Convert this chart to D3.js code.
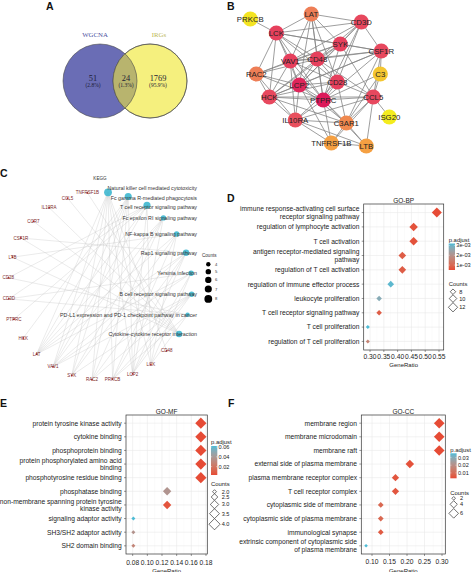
<!DOCTYPE html>
<html><head><meta charset="utf-8">
<script src="https://cdn.jsdelivr.net/npm/d3@7/dist/d3.min.js"></script>
<style>
html,body{margin:0;padding:0;background:#fff;}
svg{display:block;font-family:"Liberation Sans",Arial,Helvetica,sans-serif;}
</style></head>
<body>
<svg id="fig" width="474" height="572"></svg>
<script>
// ================= DATA =================
// Panel A – Venn
const vennSets = ["WGCNA", "IRGs"];
const vennCounts = [51, 24, 1769];
const vennPct = ["(2.8%)", "(1.3%)", "(95.9%)"];

// Panel B – PPI network (layout units from the picture)
const ppiGenes  = ["PRKCB","LAT","CD3D","LCK","SYK","CSF1R","VAV1","CD48","RAC2","C3","LCP2","CD28","HCK","PTPRC","CCL5","ISG20","IL10RA","C3AR1","TNFRSF1B","LTB"];
const ppiLayoutX = [0, 61, 111, 26, 90, 131, 40, 67, 6, 130, 49, 87, 19, 73, 123, 139, 45, 96, 81, 116];
const ppiLayoutY = [5, 0, 8, 19, 30, 37, 47, 45, 60, 60, 71, 68, 83, 86, 83, 103, 106, 109, 129, 132];
const ppiScore  = [2, 12, 16, 17, 17, 16, 17, 17, 12, 6, 19, 17, 16, 20, 16, 1, 15, 11, 9, 9];
const ppiEdges = [
 ["PRKCB","LCK"],
 ["LAT","LCK"],["LAT","CD3D"],["LAT","VAV1"],["LAT","LCP2"],["LAT","SYK"],["LAT","CD28"],["LAT","PTPRC"],["LAT","CD48"],
 ["CD3D","LCK"],["CD3D","SYK"],["CD3D","CD48"],["CD3D","CD28"],["CD3D","PTPRC"],["CD3D","LCP2"],["CD3D","CSF1R"],["CD3D","VAV1"],
 ["LCK","SYK"],["LCK","VAV1"],["LCK","CD48"],["LCK","LCP2"],["LCK","PTPRC"],["LCK","HCK"],["LCK","RAC2"],["LCK","CD28"],["LCK","CSF1R"],
 ["SYK","VAV1"],["SYK","CD48"],["SYK","LCP2"],["SYK","PTPRC"],["SYK","HCK"],["SYK","CSF1R"],["SYK","CCL5"],["SYK","RAC2"],
 ["CSF1R","CD48"],["CSF1R","PTPRC"],["CSF1R","HCK"],["CSF1R","C3"],["CSF1R","CCL5"],["CSF1R","VAV1"],["CSF1R","C3AR1"],["CSF1R","LCP2"],
 ["VAV1","CD48"],["VAV1","RAC2"],["VAV1","LCP2"],["VAV1","HCK"],["VAV1","PTPRC"],["VAV1","CD28"],["VAV1","IL10RA"],
 ["CD48","LCP2"],["CD48","CD28"],["CD48","PTPRC"],["CD48","HCK"],["CD48","CCL5"],["CD48","RAC2"],
 ["RAC2","LCP2"],["RAC2","HCK"],["RAC2","PTPRC"],["RAC2","IL10RA"],
 ["C3","CCL5"],["C3","C3AR1"],["C3","PTPRC"],
 ["LCP2","CD28"],["LCP2","HCK"],["LCP2","PTPRC"],["LCP2","IL10RA"],["LCP2","C3AR1"],["LCP2","TNFRSF1B"],
 ["CD28","PTPRC"],["CD28","CCL5"],["CD28","IL10RA"],["CD28","C3AR1"],["CD28","HCK"],
 ["HCK","PTPRC"],["HCK","IL10RA"],["HCK","CCL5"],["HCK","C3AR1"],
 ["PTPRC","CCL5"],["PTPRC","IL10RA"],["PTPRC","C3AR1"],["PTPRC","TNFRSF1B"],["PTPRC","LTB"],
 ["CCL5","ISG20"],["CCL5","C3AR1"],["CCL5","IL10RA"],["CCL5","LTB"],["CCL5","TNFRSF1B"],
 ["IL10RA","C3AR1"],["IL10RA","TNFRSF1B"],["IL10RA","LTB"],
 ["C3AR1","TNFRSF1B"],["C3AR1","LTB"],["TNFRSF1B","LTB"]
];

// Panel C – KEGG gene–pathway network (circular order, clockwise from top)
const keggPathways = ["Natural killer cell mediated cytotoxicity","Fc gamma R-mediated phagocytosis","T cell receptor signaling pathway","Fc epsilon RI signaling pathway","NF-kappa B signaling pathway","Rap1 signaling pathway","Yersinia infection","B cell receptor signaling pathway","PD-L1 expression and PD-1 checkpoint pathway in cancer","Cytokine-cytokine receptor interaction"];
const keggMembers = [
 ["LCK","LCP2","LAT","SYK","VAV1","RAC2","PRKCB","CD48"],
 ["HCK","LAT","SYK","VAV1","RAC2","PRKCB","LCP2"],
 ["CD28","CD3D","LAT","LCK","LCP2","VAV1","PTPRC"],
 ["LAT","LCP2","SYK","VAV1","RAC2"],
 ["LAT","LCK","LTB","SYK","PRKCB"],
 ["CSF1R","LAT","LCP2","PRKCB","RAC2","VAV1"],
 ["CD3D","LAT","LCK","LCP2","VAV1"],
 ["SYK","VAV1","RAC2","PRKCB","LCP2"],
 ["CD3D","LCK","PRKCB","CD28"],
 ["CCL5","CSF1R","IL10RA","LTB","TNFRSF1B","CCR7"]
];
const keggGenes = ["CD48","LCK","LCP2","PRKCB","RAC2","SYK","VAV1","LAT","HCK","PTPRC","CD3D","CD28","LTB","CSF1R","CCR7","IL10RA","CCL5","TNFRSF1B"];
const keggCountBreaks = [4,5,6,7,8];

// Panel D – GO-BP
const bpTerms = ["immune response-activating cell surface receptor signaling pathway","regulation of lymphocyte activation","T cell activation","antigen receptor-mediated signaling pathway","regulation of T cell activation","regulation of immune effector process","leukocyte proliferation","T cell receptor signaling pathway","T cell proliferation","regulation of T cell proliferation"];
const bpRatio = [0.542, 0.458, 0.458, 0.417, 0.417, 0.375, 0.333, 0.333, 0.292, 0.292];
const bpCount = [13, 11, 11, 10, 10, 9, 8, 8, 7, 7];
const bpPadj  = [0.0005, 0.0006, 0.0006, 0.0008, 0.0008, 0.0031, 0.0027, 0.0008, 0.0032, 0.0016];
const bpTicks = [0.30, 0.35, 0.40, 0.45, 0.50, 0.55];
const bpColorBreaks = [0.001, 0.002, 0.003];
const bpColorLabels = ["1e-03", "2e-03", "3e-03"];
const bpSizeBreaks = [8, 10, 12];

// Panel E – GO-MF
const mfTerms = ["protein tyrosine kinase activity","cytokine binding","phosphoprotein binding","protein phosphorylated amino acid binding","phosphotyrosine residue binding","phosphatase binding","non-membrane spanning protein tyrosine kinase activity","signaling adaptor activity","SH3/SH2 adaptor activity","SH2 domain binding"];
const mfRatio = [0.173, 0.173, 0.173, 0.173, 0.173, 0.127, 0.127, 0.081, 0.081, 0.081];
const mfCount = [4, 4, 4, 4, 4, 3, 3, 2, 2, 2];
const mfPadj  = [0.003, 0.003, 0.003, 0.003, 0.003, 0.037, 0.006, 0.062, 0.036, 0.028];
const mfTicks = [0.08, 0.10, 0.12, 0.14, 0.16, 0.18];
const mfColorBreaks = [0.02, 0.04, 0.06];
const mfColorLabels = ["0.02", "0.04", "0.06"];
const mfSizeBreaks = [2.0, 2.5, 3.0, 3.5, 4.0];

// Panel F – GO-CC
const ccTerms = ["membrane region","membrane microdomain","membrane raft","external side of plasma membrane","plasma membrane receptor complex","T cell receptor complex","cytoplasmic side of membrane","cytoplasmic side of plasma membrane","immunological synapse","extrinsic component of cytoplasmic side of plasma membrane"];
const ccRatio = [0.292, 0.292, 0.292, 0.208, 0.167, 0.167, 0.125, 0.125, 0.125, 0.083];
const ccCount = [7, 7, 7, 5, 4, 4, 3, 3, 3, 2];
const ccPadj  = [0.003, 0.003, 0.003, 0.004, 0.005, 0.005, 0.009, 0.009, 0.006, 0.0355];
const ccTicks = [0.10, 0.15, 0.20, 0.25, 0.30];
const ccColorBreaks = [0.01, 0.02, 0.03];
const ccColorLabels = ["0.01", "0.02", "0.03"];
const ccSizeBreaks = [2, 4, 6];

// ================= DRAWING =================
const svg = d3.select("#fig");
svg.append("rect").attr("width",474).attr("height",572).attr("fill","#fff");
const SERIF = "'Liberation Serif','DejaVu Serif',serif";

// panel letters
[["A",46,10],["B",227,10],["C",0,177],["D",227,202],["E",0,407],["F",228,407]].forEach(([t,x,y])=>{
  svg.append("text").attr("x",x).attr("y",y).text(t)
    .attr("font-size",10.5).attr("font-weight","bold").attr("fill","#111");
});

// ---------- A: Venn ----------
(function(){
  const g = svg.append("g");
  const cx = d3.scaleLinear().domain([0,1]).range([100,150]);
  const cy = 81, r = 37;
  const fills = ["#6a6db5", "#f5f07e"];
  g.append("defs").append("clipPath").attr("id","clipR")
    .append("circle").attr("cx",cx(1)).attr("cy",cy).attr("r",r);
  vennSets.forEach((s,i)=>{
    g.append("circle").attr("cx",cx(i)).attr("cy",cy).attr("r",r)
      .attr("fill",fills[i]).attr("stroke","#4a4a4a").attr("stroke-width",0.6);
  });
  g.append("circle").attr("cx",cx(0)).attr("cy",cy).attr("r",r)
    .attr("clip-path","url(#clipR)").attr("fill","#b8b46e")
    .attr("stroke","#4a4a4a").attr("stroke-width",0.6);
  g.append("circle").attr("cx",cx(1)).attr("cy",cy).attr("r",r)
    .attr("fill","none").attr("stroke","#4a4a4a").attr("stroke-width",0.6);
  const labCol = ["#4b4fa0","#bdb855"];
  vennSets.forEach((s,i)=>{
    g.append("text").attr("x",cx(i)+(i?9:-5)).attr("y",36.5).attr("text-anchor","middle")
      .attr("font-family",SERIF).attr("font-size",6.8).attr("fill",labCol[i]).text(s);
  });
  const tx = [cx(0)-7, (cx(0)+cx(1))/2+1, cx(1)+8];
  vennCounts.forEach((v,i)=>{
    g.append("text").attr("x",tx[i]).attr("y",80.9).attr("text-anchor","middle")
      .attr("font-family",SERIF).attr("font-size",8.4).attr("fill","#1d1d35").text(v);
    g.append("text").attr("x",tx[i]).attr("y",87.4).attr("text-anchor","middle")
      .attr("font-family",SERIF).attr("font-size",5.5).attr("fill","#1d1d35").text(vennPct[i]);
  });
})();

// ---------- B: PPI network ----------
(function(){
  const g = svg.append("g");
  const x = d3.scaleLinear().domain([0,139]).range([250.3,389.3]);
  const y = d3.scaleLinear().domain([0,132]).range([14,146]);
  const col = d3.scaleLinear().domain([1,6,9,12,15,17,20])
    .range(["#f4ec1e","#f4c630","#f5a042","#ee7e56","#e8505e","#e6405d","#dc1a5a"]);
  const idx = new Map(ppiGenes.map((d,i)=>[d,i]));
  g.selectAll("line").data(ppiEdges).join("line")
    .attr("x1",d=>x(ppiLayoutX[idx.get(d[0])])).attr("y1",d=>y(ppiLayoutY[idx.get(d[0])]))
    .attr("x2",d=>x(ppiLayoutX[idx.get(d[1])])).attr("y2",d=>y(ppiLayoutY[idx.get(d[1])]))
    .attr("stroke","#858585").attr("stroke-width",0.8);
  g.selectAll("circle").data(ppiGenes).join("circle")
    .attr("cx",(d,i)=>x(ppiLayoutX[i])).attr("cy",(d,i)=>y(ppiLayoutY[i])).attr("r",7.6)
    .attr("fill",(d,i)=>col(ppiScore[i]));
  g.selectAll("text").data(ppiGenes).join("text")
    .attr("x",(d,i)=>x(ppiLayoutX[i])).attr("y",(d,i)=>y(ppiLayoutY[i])+2.8)
    .attr("text-anchor","middle").attr("font-size",7.8).attr("fill","#222").text(d=>d);
})();

// ---------- C: KEGG circular network ----------
(function(){
  const g = svg.append("g");
  const nodes = keggPathways.map((p,i)=>({name:p, type:"path", count:keggMembers[i].length}))
    .concat(keggGenes.map(gn=>({name:gn, type:"gene"})));
  const N = nodes.length;
  const ang = d3.scaleLinear().domain([0,N]).range([-85*Math.PI/180, 275*Math.PI/180]);
  const xs = d3.scaleLinear().domain([-1,1]).range([8,192]);
  const ys = d3.scaleLinear().domain([-1,1]).range([192,380]);
  nodes.forEach((n,i)=>{ n.x = xs(Math.cos(ang(i))); n.y = ys(Math.sin(ang(i))); });
  const byName = new Map(nodes.map(n=>[n.name,n]));
  const rScale2 = d3.scaleLinear().domain([4,8]).range([2.2*2.2, 3.9*3.9]);
  const rr = c => Math.sqrt(rScale2(c));
  const links = [];
  keggPathways.forEach((p,i)=>keggMembers[i].forEach(gn=>{ if(byName.has(gn)) links.push([byName.get(gn), byName.get(p)]); }));
  g.selectAll("line").data(links).join("line")
    .attr("x1",d=>d[0].x).attr("y1",d=>d[0].y).attr("x2",d=>d[1].x).attr("y2",d=>d[1].y)
    .attr("stroke","#c4c4c4").attr("stroke-width",0.45).attr("stroke-opacity",0.75);
  const genes = nodes.filter(n=>n.type==="gene");
  const paths = nodes.filter(n=>n.type==="path");
  g.selectAll("circle.gn").data(genes).join("circle").attr("class","gn")
    .attr("cx",d=>d.x).attr("cy",d=>d.y).attr("r",0.9).attr("fill","#b02828");
  g.selectAll("text.gl").data(genes).join("text").attr("class","gl")
    .attr("x",d=>d.x).attr("y",d=>d.y+1.6).attr("text-anchor","middle")
    .attr("font-size",4.5).attr("fill","#7d2a2a").text(d=>d.name);
  g.selectAll("circle.pn").data(paths).join("circle").attr("class","pn")
    .attr("cx",d=>d.x).attr("cy",d=>d.y).attr("r",d=>rr(d.count))
    .attr("fill","#42b8d0").attr("fill-opacity",0.92);
  // simple label repulsion (vertical) so crowded labels near the top do not overlap
  paths.forEach(p=>p.ly=p.y);
  for(let it=0; it<80; it++){
    for(let i=1;i<paths.length;i++){
      const d = paths[i].ly - paths[i-1].ly;
      if(d < 9.6){ const s=(9.6-d)/2; paths[i].ly+=s; paths[i-1].ly-=s; }
    }
  }
  g.selectAll("text.pl").data(paths).join("text").attr("class","pl")
    .attr("x",197).attr("y",d=>d.ly+1.8).attr("text-anchor","end")
    .attr("font-size",5.3).attr("fill","#333").text(d=>d.name);
  g.append("text").attr("x",100).attr("y",179.5).attr("text-anchor","middle")
    .attr("font-size",4.6).attr("fill","#333").text("KEGG");
  // legend
  g.append("text").attr("x",202).attr("y",256.8).attr("font-size",4.6).attr("fill","#333").text("Counts");
  let ly = 264.3;
  keggCountBreaks.forEach((c,i)=>{
    if(i>0) ly += rr(keggCountBreaks[i-1]) + rr(c) + 2.4;
    g.append("circle").attr("cx",208.3).attr("cy",ly).attr("r",rr(c)).attr("fill","#000");
    g.append("text").attr("x",215).attr("y",ly+1.5).attr("font-size",4.2).attr("fill","#333").text(c);
  });
})();

// ---------- D/E/F dot plots ----------
function wrap(s, w){
  const words = s.split(" "); const lines=[]; let cur="";
  words.forEach(wd=>{
    if(cur==="") cur=wd;
    else if((cur+" "+wd).length<=w) cur+=" "+wd;
    else { lines.push(cur); cur=wd; }
  });
  if(cur) lines.push(cur);
  return lines;
}
let gradId = 0;
function dotplot(o){
  const g = svg.append("g");
  const x = d3.scaleLinear().domain(o.xDomain).range([o.x0,o.x1]);
  const y = d3.scalePoint().domain(o.terms).range([o.y0,o.y1]).padding(0.6);
  const col = d3.scaleLinear().domain(d3.extent(o.padj)).range(["#E64B35","#4DBBD5"]).interpolate(d3.interpolateLab);
  const r2 = d3.scaleLinear().domain(d3.extent(o.count)).range([o.rMin*o.rMin, o.rMax*o.rMax]);
  const rad = c => Math.sqrt(r2(c));
  const diamond = (cx,cy,r)=>`M${cx},${cy-r}L${cx+r},${cy}L${cx},${cy+r}L${cx-r},${cy}Z`;
  // grid
  const minor = d3.range(o.ticks.length+1).map(i=>i===0? o.ticks[0]-(o.ticks[1]-o.ticks[0])/2 : (o.ticks[i-1]+(o.ticks[1]-o.ticks[0])/2))
    .filter(v=>v>o.xDomain[0]&&v<o.xDomain[1]);
  g.selectAll("line.mn").data(minor).join("line").attr("class","mn")
    .attr("x1",d=>x(d)).attr("x2",d=>x(d)).attr("y1",o.y0).attr("y2",o.y1)
    .attr("stroke","#f3f3f3").attr("stroke-width",0.35);
  g.selectAll("line.mj").data(o.ticks).join("line").attr("class","mj")
    .attr("x1",d=>x(d)).attr("x2",d=>x(d)).attr("y1",o.y0).attr("y2",o.y1)
    .attr("stroke","#e8e8e8").attr("stroke-width",0.55);
  g.selectAll("line.yg").data(o.terms).join("line").attr("class","yg")
    .attr("x1",o.x0).attr("x2",o.x1).attr("y1",d=>y(d)).attr("y2",d=>y(d))
    .attr("stroke","#e8e8e8").attr("stroke-width",0.55);
  // points
  g.selectAll("path.pt").data(o.terms).join("path").attr("class","pt")
    .attr("d",(d,i)=>diamond(x(o.ratio[i]), y(d), rad(o.count[i])))
    .attr("fill",(d,i)=>col(o.padj[i]));
  // border
  g.append("rect").attr("x",o.x0).attr("y",o.y0).attr("width",o.x1-o.x0).attr("height",o.y1-o.y0)
    .attr("fill","none").attr("stroke","#333").attr("stroke-width",0.7);
  // y axis
  o.terms.forEach(t=>{
    const yy = y(t);
    g.append("line").attr("x1",o.x0-2).attr("x2",o.x0).attr("y1",yy).attr("y2",yy).attr("stroke","#333").attr("stroke-width",0.5);
    const lines = wrap(t,40);
    lines.forEach((ln,k)=>{
      g.append("text").attr("x",o.x0-4.3).attr("y",yy+2.4+(k-(lines.length-1)/2)*7.6)
        .attr("text-anchor","end").attr("font-size",6.7).attr("fill","#222").text(ln);
    });
  });
  // x axis
  o.ticks.forEach(t=>{
    g.append("line").attr("x1",x(t)).attr("x2",x(t)).attr("y1",o.y1).attr("y2",o.y1+2).attr("stroke","#333").attr("stroke-width",0.5);
    g.append("text").attr("x",x(t)).attr("y",o.tickY).attr("text-anchor","middle")
      .attr("font-size",6.7).attr("fill","#222").text(d3.format(".2f")(t));
  });
  g.append("text").attr("x",(o.x0+o.x1)/2).attr("y",o.xlabY).attr("text-anchor","middle")
    .attr("font-size",6).attr("fill","#222").text("GeneRatio");
  g.append("text").attr("x",(o.x0+o.x1)/2).attr("y",o.y0-1.4).attr("text-anchor","middle")
    .attr("font-size",6.5).attr("fill","#222").text(o.title);
  // colour legend
  const L = o.leg; const id = "grad"+(gradId++);
  const grad = svg.append("defs").append("linearGradient").attr("id",id).attr("x1",0).attr("x2",0).attr("y1",1).attr("y2",0);
  const ext = d3.extent(o.padj);
  d3.range(0,1.0001,0.1).forEach(f=>grad.append("stop").attr("offset",f).attr("stop-color",col(ext[0]+f*(ext[1]-ext[0]))));
  g.append("text").attr("x",L.x).attr("y",L.pTitleY).attr("font-size",5.9).attr("fill","#222").text("p.adjust");
  g.append("rect").attr("x",L.x).attr("y",L.barY).attr("width",6.3).attr("height",L.barH).attr("fill",`url(#${id})`);
  const cy = d3.scaleLinear().domain(ext).range([L.barY+L.barH, L.barY]);
  o.colorBreaks.forEach((b,i)=>{
    g.append("line").attr("x1",L.x).attr("x2",L.x+1.2).attr("y1",cy(b)).attr("y2",cy(b)).attr("stroke","#fff").attr("stroke-width",0.4);
    g.append("line").attr("x1",L.x+5.1).attr("x2",L.x+6.3).attr("y1",cy(b)).attr("y2",cy(b)).attr("stroke","#fff").attr("stroke-width",0.4);
    g.append("text").attr("x",L.x+7.6).attr("y",cy(b)+2).attr("font-size",5.6).attr("fill","#222").text(o.colorLabels[i]);
  });
  // size legend
  g.append("text").attr("x",L.x).attr("y",L.cTitleY).attr("font-size",5.9).attr("fill","#222").text("Counts");
  let ky = L.keyY;
  const maxR = rad(o.sizeBreaks[o.sizeBreaks.length-1]);
  o.sizeBreaks.forEach((s,i)=>{
    if(i>0) ky += rad(o.sizeBreaks[i-1]) + rad(s) + L.gap;
    g.append("path").attr("d",diamond(L.keyX, ky, rad(s))).attr("fill","#fff").attr("stroke","#111").attr("stroke-width",0.6);
    g.append("text").attr("x",L.keyX+Math.max(maxR,3)+1.6).attr("y",ky+2).attr("font-size",5.6).attr("fill","#222").text(o.sizeFmt(s));
  });
}

dotplot({terms:bpTerms, ratio:bpRatio, count:bpCount, padj:bpPadj, ticks:bpTicks,
  colorBreaks:bpColorBreaks, colorLabels:bpColorLabels, sizeBreaks:bpSizeBreaks, sizeFmt:d=>d,
  title:"GO-BP", x0:363.7, x1:443.7, y0:204, y1:350, xDomain:[0.277,0.567],
  tickY:359.2, xlabY:367.4, rMin:2.0, rMax:5.0,
  leg:{x:448.7, pTitleY:242, barY:243.5, barH:26.5, cTitleY:286.3, keyY:291.7, keyX:453, gap:0.3}});

dotplot({terms:mfTerms, ratio:mfRatio, count:mfCount, padj:mfPadj, ticks:mfTicks,
  colorBreaks:mfColorBreaks, colorLabels:mfColorLabels, sizeBreaks:mfSizeBreaks, sizeFmt:d3.format(".1f"),
  title:"GO-MF", x0:126, x1:207.3, y0:415, y1:554, xDomain:[0.0709,0.1818],
  tickY:565, xlabY:573, rMin:2.0, rMax:5.6,
  leg:{x:211, pTitleY:443.7, barY:446, barH:29, cTitleY:486, keyY:491.7, keyX:214.5, gap:0}});

dotplot({terms:ccTerms, ratio:ccRatio, count:ccCount, padj:ccPadj, ticks:ccTicks,
  colorBreaks:ccColorBreaks, colorLabels:ccColorLabels, sizeBreaks:ccSizeBreaks, sizeFmt:d=>d,
  title:"GO-CC", x0:361.3, x1:445.3, y0:415, y1:554, xDomain:[0.0694,0.3094],
  tickY:564, xlabY:573, rMin:1.8, rMax:5.3,
  leg:{x:450.3, pTitleY:452, barY:453.3, barH:25, cTitleY:494.5, keyY:498.3, keyX:453.7, gap:0.6}});
</script>
</body></html>
